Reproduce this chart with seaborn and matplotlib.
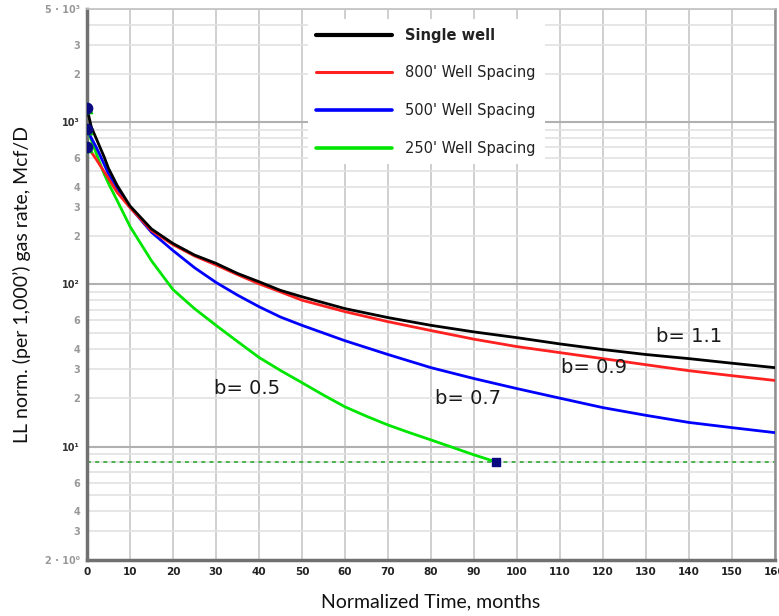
import numpy as np
import pandas as pd
import matplotlib
matplotlib.use("Agg")
import matplotlib.pyplot as plt
from matplotlib.lines import Line2D
import seaborn as sns

# ---------------- data ----------------
t_main = [0, 1, 2, 3, 4, 5, 7, 10, 15, 20, 25, 30, 35, 40, 45, 50, 60, 70, 80,
          90, 100, 110, 120, 130, 140, 150, 160]
single_well = [1225, 935, 812, 704, 611, 520, 409, 305, 220, 179, 152, 135, 117, 104, 92, 84,
               71, 62.5, 56, 51, 47, 43, 39.7, 37, 34.9, 32.7, 30.7]
spacing_800 = [704, 655, 600, 545, 495, 451, 370, 298, 215, 176, 150, 132, 115, 101, 90, 80,
               68, 59, 52, 46, 41.4, 38, 34.9, 32, 29.4, 27.4, 25.6]
spacing_500 = [914, 800, 715, 630, 550, 480, 390, 300, 210, 162, 127, 103, 86, 73, 63, 56,
               45, 37, 30.7, 26.3, 22.8, 19.9, 17.4, 15.6, 14.1, 13.1, 12.2]
t_green = [0, 1, 2, 3, 4, 5, 7, 10, 15, 20, 25, 30, 35, 40, 45, 50, 55, 60, 65, 70, 75,
           80, 85, 90, 95]
spacing_250 = [914, 780, 660, 560, 480, 420, 330, 228, 140, 93, 71, 56, 44.5, 35.5, 29.5, 24.8,
               20.8, 17.6, 15.4, 13.6, 12.2, 11.0, 9.9, 8.9, 8.07]

series_names = ["Single well", "800' Well Spacing", "500' Well Spacing", "250' Well Spacing"]
series_colors = ["#000000", "#ff2020", "#0000ff", "#00e600"]
b_labels = ["b= 1.1", "b= 0.9", "b= 0.7", "b= 0.5"]
b_label_pos = [(140, 47.8), (118, 30.8), (88.5, 19.8), (37.3, 22.8)]

start_points_t = [0, 0, 0]
start_points_q = [1225, 914, 704]
end_point_t = [95]
end_point_q = [8.07]
econ_limit = 8.07

x_ticks = list(range(0, 161, 10))
y_ticks = [2, 3, 4, 6, 10, 20, 30, 40, 60, 100, 200, 300, 400, 600, 1000, 2000, 3000, 5000]
y_tick_labels = ["2 · 10⁰", "3", "4", "6", "10¹", "2", "3", "4", "6", "10²",
                 "2", "3", "4", "6", "10³", "2", "3", "5 · 10³"]

# ---------------- build table ----------------
frames = []
for name, tt, qq in zip(series_names,
                        [t_main, t_main, t_main, t_green],
                        [single_well, spacing_800, spacing_500, spacing_250]):
    frames.append(pd.DataFrame({"t": tt, "q": qq, "series": name}))
df = pd.concat(frames, ignore_index=True)

# ---------------- figure ----------------
sns.set_style("white")
plt.rcParams["font.family"] = ["DejaVu Sans"]

fig = plt.figure(figsize=(7.79, 6.16), dpi=100)
ax = fig.add_axes([87 / 779, 56 / 616, 688 / 779, 551 / 616])

ax.set_yscale("log")
ax.set_xlim(0, 160)
ax.set_ylim(2, 5000)

# grid
for v in x_ticks:
    ax.axvline(v, color="#cccccc", lw=1.3, zorder=0)
minor_vals = [m * 10.0 ** e for e in range(0, 4) for m in range(2, 10)]
for v in minor_vals:
    if 2 <= v <= 5000:
        ax.axhline(v, color="#e2e2e2", lw=1.2, zorder=0)
for v in [10, 100, 1000]:
    ax.axhline(v, color="#b0b0b0", lw=1.5, zorder=0)

# economic limit line
ax.axhline(econ_limit, color="#4cb04c", lw=1.4, ls=(0, (2.0, 2.2)), zorder=1)

# curves via seaborn
palette = dict(zip(series_names, series_colors))
sns.lineplot(data=df, x="t", y="q", hue="series", palette=palette,
             hue_order=series_names[::-1], lw=2.0, legend=False, ax=ax,
             sort=True, estimator=None, zorder=3)

# markers
ax.scatter([0, 0, 0], start_points_q, marker="^", s=55, color="#00c800", zorder=4)
ax.scatter(start_points_t, start_points_q, marker="o", s=55, color="#0a0a80", zorder=5)
ax.scatter(end_point_t, end_point_q, marker="s", s=40, color="#0a0a80", zorder=5)

# b annotations
for lab, (x, y) in zip(b_labels, b_label_pos):
    ax.text(x, y, lab, fontsize=14, color="#1a1a1a", ha="center", va="center", zorder=6)

# ticks
ax.set_xticks(x_ticks)
ax.set_xticklabels([str(v) for v in x_ticks], fontsize=7.5, fontweight="bold", color="#222222")
ax.set_yticks(y_ticks)
ax.set_yticklabels(y_tick_labels, fontsize=7, fontweight="bold")
ax.yaxis.set_minor_locator(matplotlib.ticker.NullLocator())
for lbl, v in zip(ax.get_yticklabels(), y_ticks):
    lbl.set_color("#333333" if v in (10, 100, 1000) else "#999999")
ax.tick_params(axis="both", length=0, pad=5)

# spines
for s in ["left", "bottom"]:
    ax.spines[s].set_color("#707070")
    ax.spines[s].set_linewidth(2.5)
ax.spines["right"].set_color("#909090")
ax.spines["right"].set_linewidth(1.8)
ax.spines["top"].set_color("#c0c0c0")
ax.spines["top"].set_linewidth(1.2)

# labels
ax.set_xlabel("Normalized Time, months", fontsize=14, family="Lato", color="#111111", labelpad=12)
ax.set_ylabel("LL norm. (per 1,000’) gas rate, Mcf/D", fontsize=14, family="Lato",
              color="#111111", labelpad=10)

# legend
handles = [Line2D([0], [0], color=c, lw=lw) for c, lw in zip(series_colors, [3, 2.2, 2.6, 2.6])]
leg = ax.legend(handles, series_names, loc="upper left", bbox_to_anchor=(0.31, 0.995),
                fontsize=10.5, frameon=True, framealpha=1, edgecolor="none",
                handlelength=5.2, handletextpad=0.9, labelspacing=1.55, borderpad=0.6)
leg.get_texts()[0].set_fontweight("bold")
for txt in leg.get_texts():
    txt.set_color("#222222")
leg.set_zorder(7)

fig.savefig("out.png", dpi=100)
